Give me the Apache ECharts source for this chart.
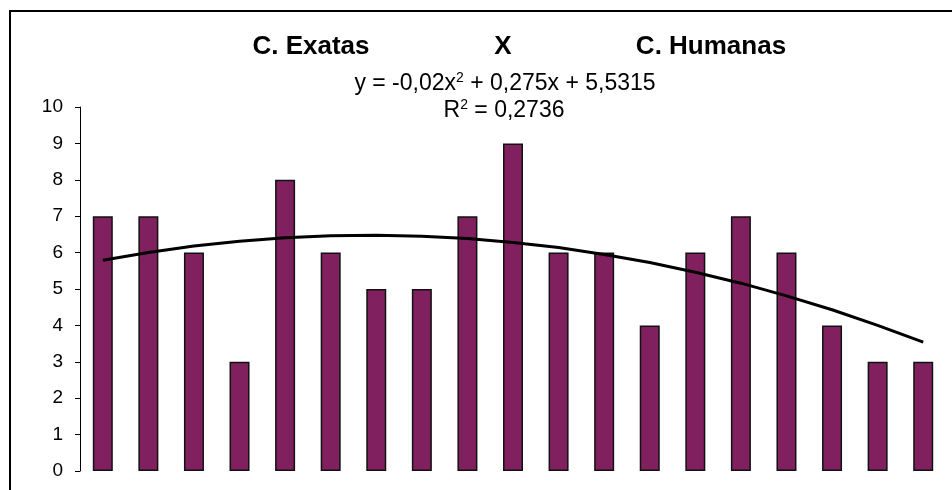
<!DOCTYPE html>
<html><head><meta charset="utf-8">
<script src="https://cdn.jsdelivr.net/npm/echarts@6/dist/echarts.min.js"></script>
<style>html,body{margin:0;padding:0;background:#fff}#c{width:952px;height:490px}</style>
</head><body><div id="c"></div>
<script>
var categories = ['1','2','3','4','5','6','7','8','9','10','11','12','13','14','15','16','17','18','19'];
var barValues = [7,7,6,3,8,6,5,5,7,9,6,6,4,6,7,6,4,3,3];
var trendValues = [5.79,6.00,6.18,6.31,6.41,6.46,6.48,6.45,6.39,6.28,6.14,5.95,5.73,5.46,5.16,4.81,4.43,4.00,3.54];
var yTicks = [0,1,2,3,4,5,6,7,8,9,10];

var chart = echarts.init(document.getElementById('c'));
var F = '"Liberation Sans", Arial, sans-serif';
chart.setOption({
  animation:false,
  backgroundColor:'#fff',
  grid:{left:80, right:6, top:107, bottom:19, containLabel:false},
  xAxis:{type:'category', data:categories, axisLine:{show:false}, axisTick:{show:false}, axisLabel:{show:false}, splitLine:{show:false}},
  yAxis:{type:'value', min:yTicks[0], max:yTicks[yTicks.length-1], interval:1,
    axisLine:{show:true, lineStyle:{color:'#000', width:1}},
    axisTick:{show:true, inside:false, length:5, lineStyle:{color:'#000', width:1}},
    axisLabel:{color:'#000', fontSize:19, fontFamily:F, margin:17},
    splitLine:{show:false}},
  graphic:[
    {type:'rect', shape:{x:10, y:11, width:980, height:520}, style:{fill:'none', stroke:'#000', lineWidth:2}, z:-1},
    {type:'text', x:311, y:47, style:{text:'C. Exatas', font:'bold 26px '+F, fill:'#000', textAlign:'center', textVerticalAlign:'middle'}},
    {type:'text', x:503, y:47, style:{text:'X', font:'bold 26px '+F, fill:'#000', textAlign:'center', textVerticalAlign:'middle'}},
    {type:'text', x:711, y:47, style:{text:'C. Humanas', font:'bold 26px '+F, fill:'#000', textAlign:'center', textVerticalAlign:'middle'}},
    {type:'text', x:505, y:84, style:{text:'{n|y = -0,02x}{s|2}{n| + 0,275x + 5,5315}', textAlign:'center', textVerticalAlign:'middle',
      rich:{n:{fontSize:23, fontFamily:F, color:'#000'}, s:{fontSize:14, fontFamily:F, color:'#000', padding:[0,0,12,0]}}}},
    {type:'text', x:504, y:111, style:{text:'{n|R}{s|2}{n| = 0,2736}', textAlign:'center', textVerticalAlign:'middle',
      rich:{n:{fontSize:23, fontFamily:F, color:'#000'}, s:{fontSize:14, fontFamily:F, color:'#000', padding:[0,0,12,0]}}}}
  ],
  series:[
    {type:'bar', data:barValues, barWidth:20, itemStyle:{color:'#80205F', borderColor:'#111', borderWidth:1.5}, silent:true},
    {type:'line', data:trendValues, showSymbol:false, smooth:false, lineStyle:{color:'#000', width:3}, z:5, silent:true}
  ]
});
</script></body></html>
